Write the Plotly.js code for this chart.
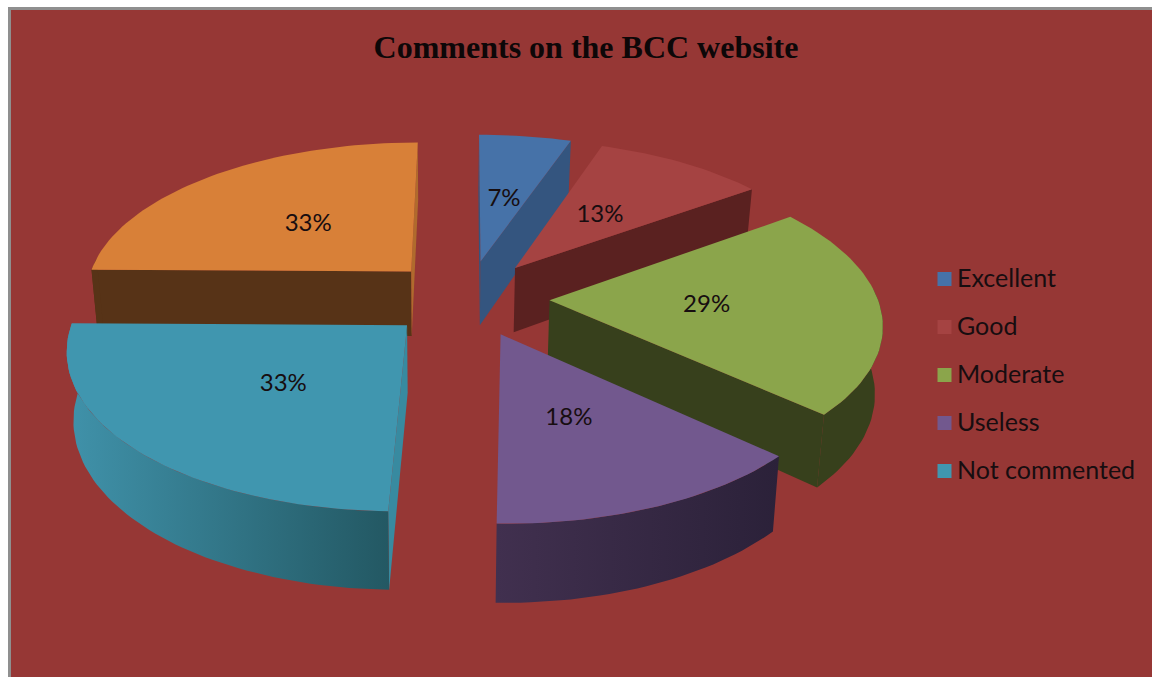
<!DOCTYPE html>
<html>
<head>
<meta charset="utf-8">
<script src="https://cdn.plot.ly/plotly-3.0.1.min.js"></script>
<style>html,body{margin:0;padding:0;background:#fff}#chart{width:1152px;height:677px}</style>
</head>
<body>
<div id="chart"></div>
<script>
// ---- data ----
const categories = ["Excellent", "Good", "Moderate", "Useless", "Not commented", ""];
const values = [7, 13, 29, 18, 33, 33];
const chartTitle = "Comments on the BCC website";

// ---- style ----
const topColors  = ["#4672a8", "#a54342", "#8ba54b", "#72588e", "#4096af", "#d88038"];
const cutColors  = ["#34557f", "#5a2120", "#37401c", "#3d2f52", "#388aa0", "#573317"];
const sliverColor = "#b06a2d";
const wallGrad   = [null, null, null, ["#41304f", "#2b2139"], ["#4092aa", "#235863"], null];
const drawOrder  = [0, 1, 5, 2, 3, 4];
const labelNudge = [[1, 0], [2, -1], [2, 0], [0, 9], [-2, 4], [-4, -1]];
const BG = "#963735", TEXT = "#170d10", LABEL_FONT = "Lato, Carlito, 'Noto Sans', sans-serif";

// ---- oblique perspective projection of a tilted, exploded pie ----
const cam = {cx: 467.5, cy: 298, rx: 328, ry: 153, p: 0.135, depth: 66, shrink: 0.018, vx: 440, explode: 0.25, start: 0};
const rad = d => d * Math.PI / 180;
function proj(wu, wv, z) {
  const s = 1 / (1 + cam.p * wv);
  const X = cam.cx + cam.rx * wu * s;
  return [X - (X - cam.vx) * cam.shrink * z, cam.cy - cam.ry * wv * s + cam.depth * z * s];
}
const total = values.reduce((a, b) => a + b, 0);
let acc = cam.start;
const slices = values.map((v, i) => {
  const a0 = acc, a1 = acc + v / total * 360; acc = a1;
  const mid = rad((a0 + a1) / 2);
  return {i, a0, a1, ax: cam.explode * Math.sin(mid), ay: cam.explode * Math.cos(mid), mid};
});

function poly(pts, color, grad) {
  const t = {type: "scatter", mode: "lines", x: pts.map(p => p[0]), y: pts.map(p => p[1]),
    fill: "toself", fillcolor: color, line: {width: 0, color: color}, hoverinfo: "skip", showlegend: false};
  if (grad) {
    t.fillgradient = {type: "horizontal", colorscale: [[0, grad[0]], [1, grad[1]]]};
  }
  return t;
}

const traces = [];
drawOrder.forEach(idx => {
  const s = slices[idx];
  const angles = [];
  for (let a = s.a0; a < s.a1; a += 1.5) angles.push(a);
  angles.push(s.a1);
  const pt = (a, z) => proj(s.ax + Math.sin(rad(a)), s.ay + Math.cos(rad(a)), z);
  const apexT = proj(s.ax, s.ay, 0), apexB = proj(s.ax, s.ay, 1);
  const midT = pt((s.a0 + s.a1) / 2, 0);

  // radial cut faces: only those hanging outside the top face are visible
  [s.a0, s.a1].forEach(a => {
    const P = pt(a, 0), Q = pt(a, 1);
    const dx = P[0] - apexT[0], dy = P[1] - apexT[1];
    const side = (q) => dx * (q[1] - apexT[1]) - dy * (q[0] - apexT[0]);
    if (side(apexB) * side(midT) < 0) {
      const col = (idx === 5 && a === s.a1) ? sliverColor : cutColors[idx];
      traces.push(poly([apexT, P, Q, apexB, apexT], col));
    }
  });
  // outer wall, only the part that faces the viewer
  const front = angles.filter(a => Math.cos(rad(a)) < 0.1);
  if (front.length > 1) {
    const up = front.map(a => pt(a, 0)), down = front.map(a => pt(a, 1)).reverse();
    traces.push(poly(up.concat(down, [up[0]]), cutColors[idx], wallGrad[idx]));
  }
  // top face
  const top = [apexT].concat(angles.map(a => pt(a, 0)), [apexT]);
  const t = poly(top, topColors[idx]);
  t.name = categories[idx];
  traces.push(t);
});

// percentage labels
const labelPts = slices.map((s, i) => {
  const p = proj(s.ax + 0.47 * Math.sin(s.mid), s.ay + 0.47 * Math.cos(s.mid), 0);
  return [p[0] + labelNudge[i][0], p[1] + labelNudge[i][1]];
});
traces.push({type: "scatter", mode: "text", x: labelPts.map(p => p[0]), y: labelPts.map(p => p[1] + 1),
  text: values.map(v => v + "%"), textposition: "middle center",
  textfont: {family: LABEL_FONT, size: 24, color: TEXT}, hoverinfo: "skip", showlegend: false});

// legend column
const legendIdx = [0, 1, 2, 3, 4];
const legendY = i => 279 + i * 48;
traces.push({type: "scatter", mode: "markers", x: legendIdx.map(() => 944.5), y: legendIdx.map(legendY),
  marker: {symbol: "square", size: 14, color: legendIdx.map(i => topColors[i]), line: {width: 0}},
  hoverinfo: "skip", showlegend: false});
traces.push({type: "scatter", mode: "text", x: legendIdx.map(() => 957), y: legendIdx.map(i => legendY(i) + 2),
  text: legendIdx.map(i => categories[i]), textposition: "middle right",
  textfont: {family: LABEL_FONT, size: 25, color: TEXT}, hoverinfo: "skip", showlegend: false});

const layout = {
  width: 1152, height: 677,
  margin: {l: 0, r: 0, t: 0, b: 0},
  paper_bgcolor: "#ffffff", plot_bgcolor: "#ffffff",
  showlegend: false,
  title: {text: "<b>" + chartTitle + "</b>", x: 586 / 1152, xanchor: "center", y: 1 - 47 / 677, yanchor: "middle",
    font: {family: "'Liberation Serif', serif", size: 32, color: "#0d0708"}},
  xaxis: {range: [0, 1152], visible: false, fixedrange: true},
  yaxis: {range: [677, 0], visible: false, fixedrange: true},
  shapes: [
    {type: "rect", layer: "below", xref: "x", yref: "y", x0: 8, x1: 1152, y0: 7, y1: 677, fillcolor: "#8f8f8f", line: {width: 0}},
    {type: "rect", layer: "below", xref: "x", yref: "y", x0: 11, x1: 1152, y0: 10, y1: 677, fillcolor: BG, line: {width: 0}}
  ]
};
Plotly.newPlot("chart", traces, layout, {displayModeBar: false, staticPlot: true});
</script>
</body>
</html>
